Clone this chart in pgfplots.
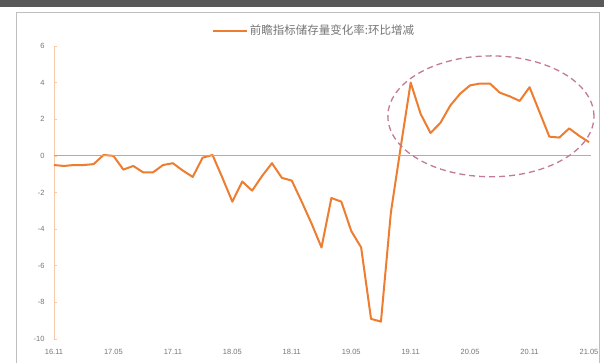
\documentclass[border=0pt]{standalone}
\usepackage{fontspec}
\setmainfont{Liberation Sans}
\newfontfamily\cjk{Noto Sans CJK SC}
\usepackage{pgfplots}
\pgfplotsset{compat=1.18}
\definecolor{lineor}{HTML}{ED7D31}
\definecolor{zeroor}{HTML}{F19A5E}
\definecolor{axor}{HTML}{F6C9A8}
\definecolor{ell}{HTML}{C27A98}
\definecolor{txt}{HTML}{767676}
\begin{document}
\begin{tikzpicture}
\useasboundingbox (0pt,0pt) rectangle (604pt,362pt);
\fill[white] (0pt,0pt) rectangle (604pt,362pt);
\fill[black!65] (0pt,355pt) rectangle (604pt,362pt);
\draw[black!25, line width=0.8pt] (16pt,-2pt) -- (16pt,350pt) -- (599pt,350pt) -- (599pt,-2pt);
\begin{axis}[
  at={(54pt,23pt)}, anchor=south west,
  scale only axis, width=535pt, height=293pt,
  xmin=0, xmax=54, ymin=-10, ymax=6,
  clip=false,
  axis line style={draw=none},
  xtick pos=bottom, ytick pos=left,
  xtick={0,6,...,54},
  xticklabels={16.11,17.05,17.11,18.05,18.11,19.05,19.11,20.05,20.11,21.05},
  ytick={-10,-8,...,6},
  xtick style={draw=none},
  ytick style={draw=axor, line width=0.6pt},
  tick align=inside, major tick length=3pt,
  /pgf/number format/assume math mode=true,
  tick label style={font=\fontsize{7.5}{8}\selectfont, text=txt},
  xticklabel style={yshift=-7pt},
  yticklabel style={xshift=-6pt},
  legend style={at={(0.486,1.052)}, anchor=center, draw=none, fill=none,
    font=\cjk\fontsize{11.5}{13}\selectfont, text=txt},
  legend image code/.code={\draw[lineor, line width=2pt] (0pt,0pt) -- (34pt,0pt);},
]
\draw[color=axor, line width=0.8pt] (axis cs:0,-10) -- (axis cs:0,6);
\addplot[color=lineor, line width=2pt, line join=round] coordinates {
(0,-0.5) (1,-0.55) (2,-0.5) (3,-0.5) (4,-0.45) (5,0.05) (6,0.0) (7,-0.75)
(8,-0.55) (9,-0.9) (10,-0.9) (11,-0.5) (12,-0.4) (13,-0.8) (14,-1.15) (15,-0.1)
(16,0.05) (17,-1.2) (18,-2.5) (19,-1.4) (20,-1.9) (21,-1.1) (22,-0.4) (23,-1.2)
(24,-1.35) (25,-2.5) (26,-3.7) (27,-5.0) (28,-2.3) (29,-2.5) (30,-4.1) (31,-5.0)
(32,-8.9) (33,-9.05) (34,-3.1) (35,0.5) (36,4.0) (37,2.3) (38,1.25) (39,1.8)
(40,2.75) (41,3.4) (42,3.85) (43,3.95) (44,3.95) (45,3.45) (46,3.25) (47,3.0)
(48,3.75) (49,2.4) (50,1.05) (51,1.0) (52,1.5) (53,1.1) (54,0.75)
};
\addlegendentry{前瞻指标储存量变化率:环比增减}
\draw[color=zeroor, line width=1.1pt] (axis cs:0,0) -- (axis cs:54.2,0);
\draw[ell, line width=1.3pt, dash pattern=on 6pt off 4pt] (axis cs:44.1,2.16) ellipse [x radius=10.4, y radius=3.3];
\end{axis}
\end{tikzpicture}
\end{document}
